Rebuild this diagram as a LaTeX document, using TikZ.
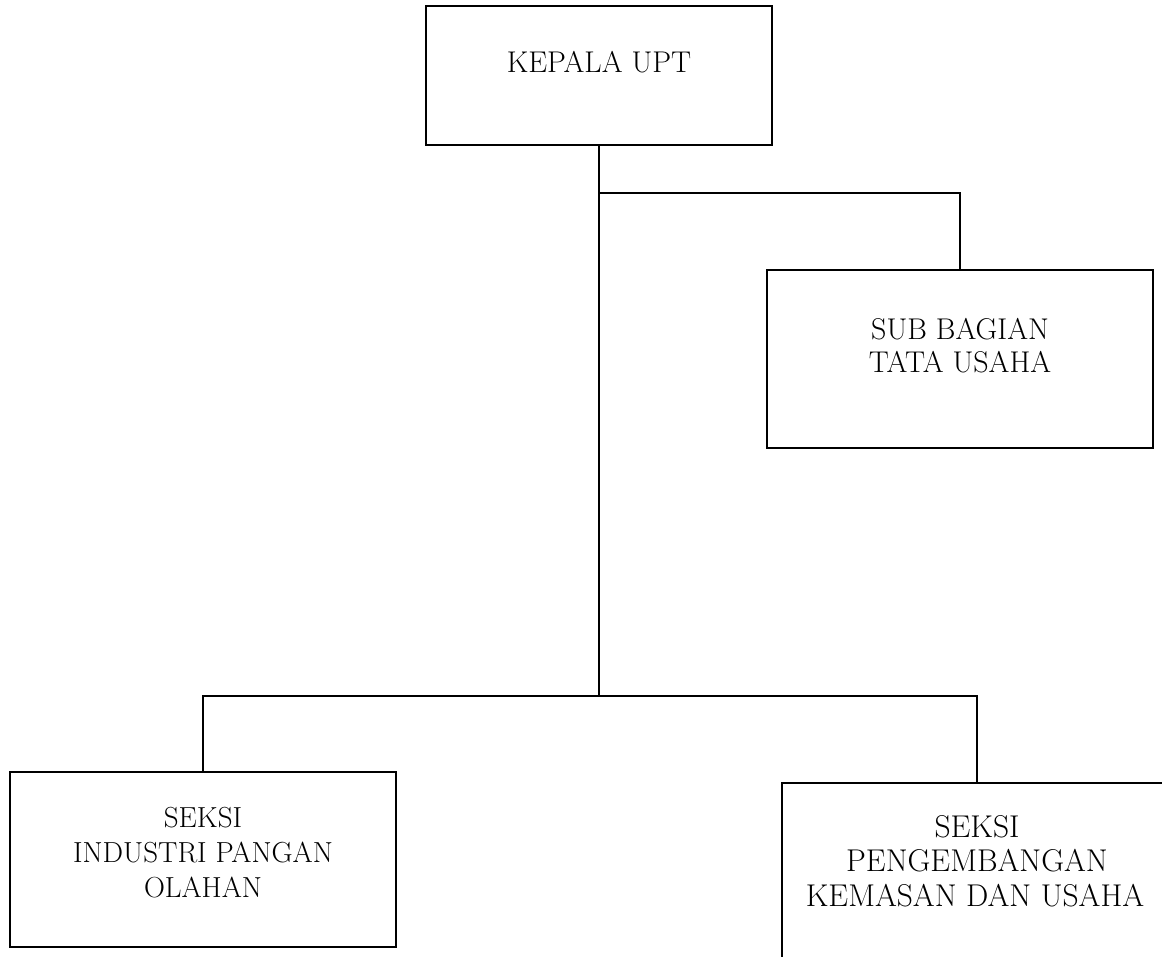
\documentclass[tikz,border=0pt]{standalone}
\begin{document}
\begin{tikzpicture}[x=1pt,y=-1pt,
  orgbox/.style={draw=black, line width=1.7pt, rectangle, inner sep=0pt},
  txt/.style={anchor=base, inner sep=0pt, font=\fontsize{30}{34}\selectfont},
  txtA/.style={txt, font=\fontsize{29}{33}\selectfont},
  txtB/.style={txt, font=\fontsize{31.5}{35}\selectfont},
  conn/.style={draw=black, line width=1.7pt}]
\useasboundingbox (0,0) rectangle (1162,957);
\begin{scope}
\clip (0,0) rectangle (1162,957);
% boxes
\node[orgbox, minimum width=346pt, minimum height=139pt] (kepala) at (599,75.5) {};
\node[orgbox, minimum width=386pt, minimum height=178pt] (sub) at (960,359) {};
\node[orgbox, minimum width=386pt, minimum height=175pt] (seksiA) at (203,859.5) {};
\node[orgbox, minimum width=390pt, minimum height=175pt] (seksiB) at (977,870.5) {};
% texts
\node[txt] (tK) at (599,73) {KEPALA UPT};
\node[txt] (tS1) at (960,340) {SUB BAGIAN};
\node[txt] (tS2) at (960,373) {TATA USAHA};
\node[txtA] (tA1) at (203,827) {SEKSI};
\node[txtA] (tA2) at (203,862) {INDUSTRI PANGAN};
\node[txtA] (tA3) at (203,897) {OLAHAN};
\node[txtB] (tB1) at (977,837.5) {SEKSI};
\node[txtB] (tB2) at (977,871) {PENGEMBANGAN};
\node[txtB] (tB3) at (975,906) {KEMASAN DAN USAHA};
% junctions
\coordinate (j1) at (599,193);
\coordinate (j2) at (599,696);
% connectors
\draw[conn] (kepala.south) -- (j2);
\draw[conn] (j1) -| (sub.north);
\draw[conn] (j2) -| (seksiA.north);
\draw[conn] (j2) -| (seksiB.north);
\end{scope}
\end{tikzpicture}
\end{document}
